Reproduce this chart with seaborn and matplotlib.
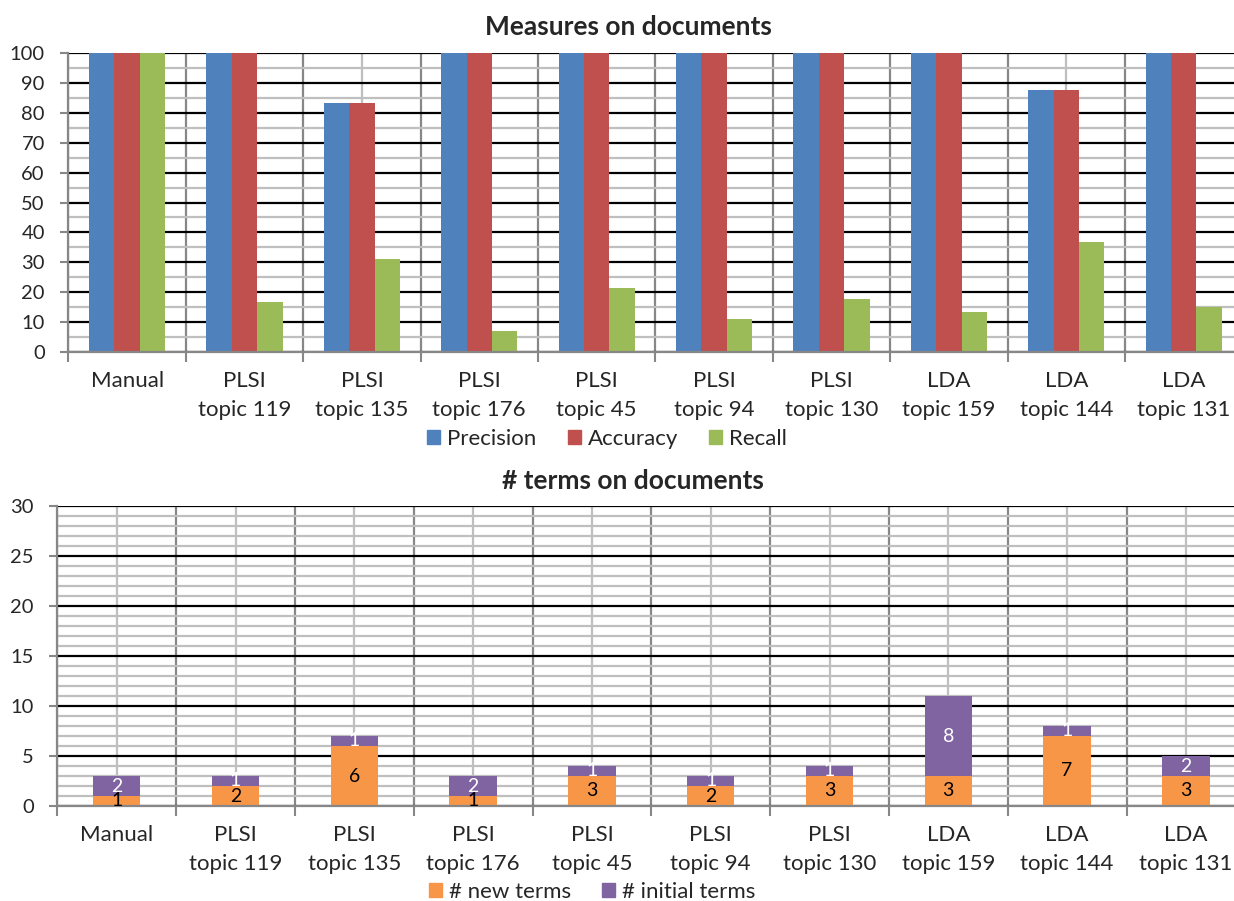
import numpy as np
import pandas as pd
import matplotlib
matplotlib.use("Agg")
import matplotlib.pyplot as plt
from matplotlib.ticker import MultipleLocator, FixedLocator
from matplotlib.patches import Patch
import seaborn as sns

categories = ["Manual", "PLSI\ntopic 119", "PLSI\ntopic 135", "PLSI\ntopic 176",
              "PLSI\ntopic 45", "PLSI\ntopic 94", "PLSI\ntopic 130",
              "LDA\ntopic 159", "LDA\ntopic 144", "LDA\ntopic 131"]
precision = [100, 100, 83.3, 100, 100, 100, 100, 100, 87.5, 100]
accuracy = [100, 100, 83.3, 100, 100, 100, 100, 100, 87.5, 100]
recall = [100, 16.7, 31.2, 7.1, 21.4, 11.1, 17.6, 13.5, 36.8, 14.9]
new_terms = [1, 2, 6, 1, 3, 2, 3, 3, 7, 3]
initial_terms = [2, 1, 1, 2, 1, 1, 1, 8, 1, 2]

metric_names = ["Precision", "Accuracy", "Recall"]
metric_colors = ["#4F81BD", "#C0504D", "#9BBB59"]
term_names = ["# new terms", "# initial terms"]
term_colors = ["#F79646", "#8064A2"]

sns.set_theme(style="white")
plt.rcParams["font.family"] = ["Lato", "DejaVu Sans"]

W, H = 1234, 901
fig = plt.figure(figsize=(W / 100, H / 100), dpi=100)

DARK = "#878787"
LIGHT = "#BFBFBF"


def style_axis(ax, ymax, ymajor, yminor):
    n = len(categories)
    ax.set_xlim(-0.5, n - 0.5)
    ax.set_ylim(0, ymax)
    ax.yaxis.set_major_locator(MultipleLocator(ymajor))
    ax.yaxis.set_minor_locator(MultipleLocator(yminor))
    ax.xaxis.set_major_locator(FixedLocator(np.arange(n)))
    ax.xaxis.set_minor_locator(FixedLocator(np.arange(n + 1) - 0.5))
    ax.set_xticklabels(categories, fontsize=16, linespacing=1.55)
    ax.set_axisbelow(True)
    ax.grid(which="major", axis="y", color="black", lw=1.6)
    ax.grid(which="minor", axis="y", color=LIGHT, lw=1.6)
    ax.grid(which="major", axis="x", color=LIGHT, lw=1.6)
    ax.grid(which="minor", axis="x", color=DARK, lw=1.6)
    ax.tick_params(axis="y", which="major", length=6, width=1.5, color=DARK,
                   labelsize=14.5, pad=11, left=True, direction="out")
    ax.tick_params(axis="y", which="minor", length=0)
    ax.tick_params(axis="x", which="major", length=0, pad=14)
    ax.tick_params(axis="x", which="minor", length=7, width=1.5, color=DARK,
                   bottom=True, direction="out")
    for s in ["top", "right"]:
        ax.spines[s].set_visible(False)
    for s in ["left", "bottom"]:
        ax.spines[s].set_color(DARK)
        ax.spines[s].set_linewidth(1.6)
    ax.set_xlabel("")
    ax.set_ylabel("")


# ---------- top chart ----------
ax1 = fig.add_axes([68.4 / W, 1 - 352 / H, 1174 / W, 299 / H])
df = pd.DataFrame({
    "category": np.repeat(categories, 3),
    "metric": metric_names * len(categories),
    "value": np.ravel(np.column_stack([precision, accuracy, recall])),
})
sns.barplot(data=df, x="category", y="value", hue="metric", order=categories,
            hue_order=metric_names, palette=metric_colors, width=0.65, gap=0,
            saturation=1, legend=False, ax=ax1, errorbar=None, linewidth=0)
style_axis(ax1, 100, 10, 5)
fig.text(628 / W, 1 - 27 / H, "Measures on documents", ha="center", va="center",
         fontsize=19, fontweight="bold")
fig.legend(handles=[Patch(color=c, label=l) for c, l in zip(metric_colors, metric_names)],
           loc="center", bbox_to_anchor=(607 / W, 1 - 439 / H), ncol=3, frameon=False,
           fontsize=16, handlelength=0.6, handleheight=0.6, handletextpad=0.3,
           columnspacing=1.4, borderaxespad=0, borderpad=0)

# ---------- bottom chart ----------
ax2 = fig.add_axes([57.3 / W, 1 - 806 / H, 1188 / W, 300 / H])
sns.barplot(x=categories, y=new_terms, order=categories, color=term_colors[0],
            width=0.4, saturation=1, ax=ax2, errorbar=None, linewidth=0)
pos = np.arange(len(categories))
ax2.bar(pos, initial_terms, bottom=new_terms, width=0.4, color=term_colors[1],
        linewidth=0)
style_axis(ax2, 30, 5, 1)
ax2.bar_label(ax2.containers[0], labels=[str(v) for v in new_terms],
              label_type="center", fontsize=14, color="black")
ax2.bar_label(ax2.containers[1], labels=[str(v) for v in initial_terms],
              label_type="center", fontsize=14, color="white")
fig.text(633 / W, 1 - 481 / H, "# terms on documents", ha="center", va="center",
         fontsize=19, fontweight="bold")
fig.legend(handles=[Patch(color=c, label=l) for c, l in zip(term_colors, term_names)],
           loc="center", bbox_to_anchor=(592 / W, 1 - 892 / H), ncol=2, frameon=False,
           fontsize=16, handlelength=0.6, handleheight=0.6, handletextpad=0.3,
           columnspacing=1.4, borderaxespad=0, borderpad=0)

fig.savefig("out.png", dpi=100)
